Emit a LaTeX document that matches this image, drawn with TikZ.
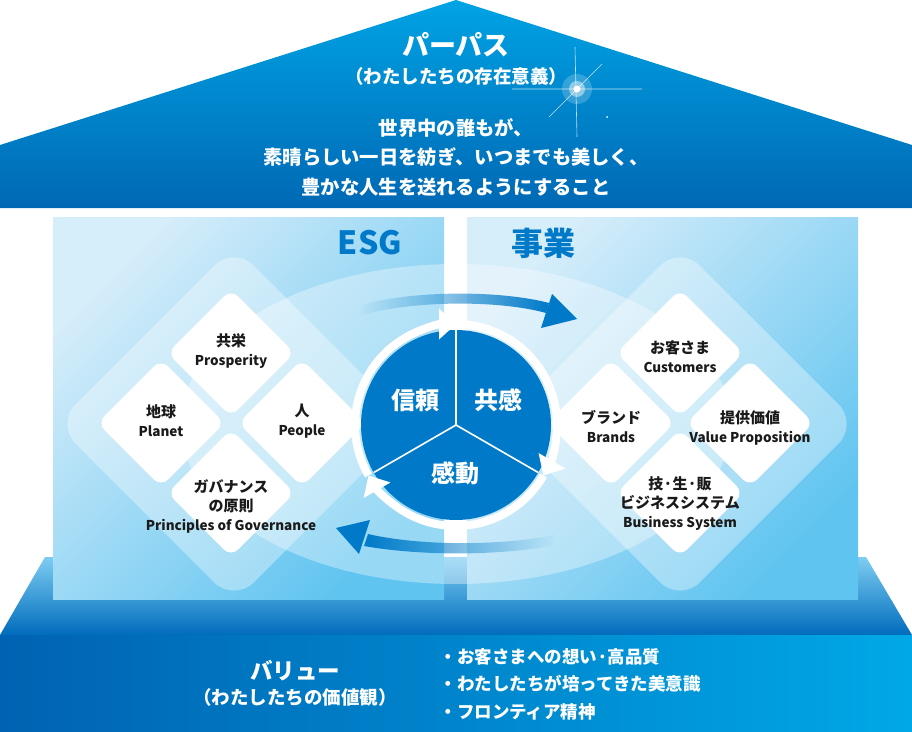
\documentclass[tikz,border=0pt]{standalone}
\usepackage{fontspec}
\setmainfont{Noto Sans CJK JP}
\usetikzlibrary{arrows.meta, positioning, fadings}
\definecolor{roofTop}{RGB}{0,163,228}
\definecolor{roofBot}{RGB}{0,104,180}
\definecolor{panelLt}{RGB}{214,237,250}
\definecolor{panelDk}{RGB}{96,196,240}
\definecolor{baseTop}{RGB}{125,205,242}
\definecolor{baseBot}{RGB}{0,108,188}
\definecolor{bandL}{RGB}{0,98,178}
\definecolor{bandR}{RGB}{0,168,230}
\definecolor{keyBlue}{RGB}{0,122,200}
\definecolor{inkDark}{RGB}{26,26,26}
\tikzfading[name=fade in right, left color=transparent!100, right color=transparent!0]
\tikzfading[name=fade out right, left color=transparent!0, right color=transparent!100]
\newcommand{\petalEn}[1]{{\fontsize{13.5}{19}\selectfont #1}}

\begin{document}
\begin{tikzpicture}[
    x=1pt, y=-1pt,
    petal/.style={rectangle, fill=white, rounded corners=10pt, minimum size=90pt, rotate=45, inner sep=0pt},
    bigpetal/.style={rectangle, fill=white, fill opacity=0.35, rounded corners=28pt, minimum size=252pt, rotate=45, inner sep=0pt},
    petaltext/.style={align=center, text=inkDark, font=\bfseries\fontsize{15}{19}\selectfont},
    headline/.style={text=keyBlue, font=\bfseries\fontsize{32}{36}\selectfont},
    wheeltext/.style={text=white, font=\bfseries\fontsize{24}{28}\selectfont},
    whitetext/.style={text=white, align=center},
    ring/.style={white, line width=8pt, -{Triangle[width=30pt, length=17pt]}},
    band/.style={fill=keyBlue}
]
\useasboundingbox (0,0) rectangle (912,731);

% Roof: purpose
\shade[top color=roofTop, bottom color=roofBot] (0,145) -- (456,0) -- (912,145) -- (912,208) -- (0,208) -- cycle;

% sparkle
\fill[white, opacity=0.2] (577,89) circle[radius=15];
\fill[white, opacity=0.45] (577,89) circle[radius=8];
\fill[white] (577,89) circle[radius=3.5];
\draw[white, opacity=0.75, line width=0.6pt] (512,89) -- (642,89) (575,47) -- (577,137) (602,64) -- (549,117);
\fill[white] (607,117) circle[radius=1];

\node[whitetext, font=\bfseries\fontsize{27}{30}\selectfont] (purpose) at (456,45) {パーパス};
\node[whitetext, font=\bfseries\fontsize{18.5}{22}\selectfont] (purposeSub) at (456,76) {（わたしたちの存在意義）};
\node[whitetext, font=\bfseries\fontsize{19.3}{29.5}\selectfont] (mission) at (456,157) {世界中の誰もが、\\素晴らしい一日を紡ぎ、いつまでも美しく、\\豊かな人生を送れるようにすること};

% Base: values
\shade[top color=baseTop, bottom color=baseBot] (45,557) -- (866,557) -- (912,635) -- (0,635) -- cycle;
\shade[left color=bandL, right color=bandR] (0,635) rectangle (912,731);

\node[whitetext, font=\bfseries\fontsize{22.5}{26}\selectfont] (values) at (295,671) {バリュー};
\node[whitetext, font=\bfseries\fontsize{18.5}{22}\selectfont] (valuesSub) at (295,697) {（わたしたちの価値観）};
\node[whitetext, align=left, anchor=west, font=\bfseries\fontsize{17.5}{27.5}\selectfont] (valueList) at (436,684) {・お客さまへの想い·高品質\\・わたしたちが培ってきた美意識\\・フロンティア精神};

% Panels
\shade[top color=panelLt, bottom color=panelDk, shading angle=45] (53,217) rectangle (444,599);
\shade[top color=panelLt, bottom color=panelDk, shading angle=45] (467,217) rectangle (858,599);

% lens behind the wheel
\fill[white, opacity=0.35] (456,424) ellipse[x radius=275, y radius=160];

% ESG side
\node[bigpetal] (esgBack) at (234,424) {};
\node[petal] (pros) at (231,353) {};
\node[petal] (planet) at (161,423) {};
\node[petal] (people) at (302,423) {};
\node[petal] (gov) at (231,493) {};
\node[petaltext] at (231,351) {共栄\\\petalEn{Prosperity}};
\node[petaltext] at (161,421) {地球\\\petalEn{Planet}};
\node[petaltext] at (302,421) {人\\\petalEn{People}};
\node[petaltext] at (231,506) {ガバナンス\\の原則\\\petalEn{Principles of Governance}};
\node[headline] (esg) at (370,243) {ESG};

% Business side
\node[bigpetal] (bizBack) at (680,424) {};
\node[petal] (cust) at (680,353) {};
\node[petal] (brands) at (611,423) {};
\node[petal] (valueProp) at (750,423) {};
\node[petal] (bizSys) at (680,493) {};
\node[petaltext] at (680,357) {お客さま\\\petalEn{Customers}};
\node[petaltext] at (611,427) {ブランド\\\petalEn{Brands}};
\node[petaltext] at (750,428) {提供価値\\\petalEn{Value Proposition}};
\node[petaltext] at (680,504) {技·生·販\\ビジネスシステム\\\petalEn{Business System}};
\node[headline] (biz) at (543,243) {事業};

% sweeping arrows
\fill[band, path fading=fade in right] (358,306) .. controls (410,290) and (500,290) .. (549,303) -- (546,313) .. controls (500,300) and (410,300) .. (360,316) -- cycle;
\fill[keyBlue] (552,294) -- (577,319) -- (541,328) -- cycle;
\fill[band, path fading=fade out right] (555,535) .. controls (500,546) and (420,546) .. (368,534) -- (364,546) .. controls (420,556) and (500,556) .. (556,545) -- cycle;
\fill[keyBlue] (370,520) -- (336,528) -- (359,554) -- cycle;

% wheel
\begin{scope}[shift={(456,425)}, y=1pt]
  \fill[keyBlue] (0,0) circle[radius=95];
  \foreach \a in {90,210,330}
    \draw[white, line width=1.6pt] (0,0) -- (\a:95);
  \foreach \a in {90,210,330}
    \draw[ring] (\a+120:101) arc[start angle=\a+120, end angle=\a, radius=101];
\end{scope}
\node[wheeltext] (trust) at (415,400) {信頼};
\node[wheeltext] (empathy) at (498,400) {共感};
\node[wheeltext] (emotion) at (455,473) {感動};

\end{tikzpicture}
\end{document}
